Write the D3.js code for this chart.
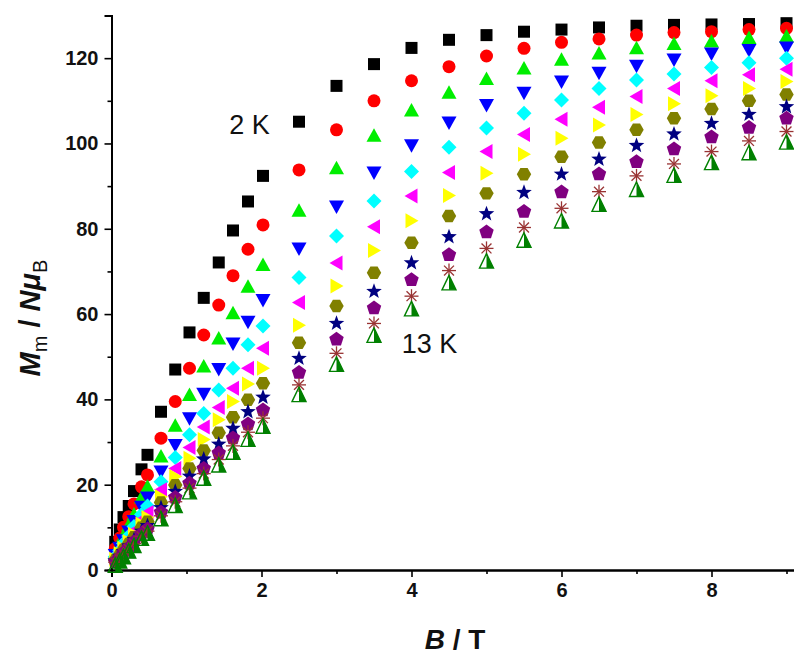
<!DOCTYPE html>
<html><head><meta charset="utf-8">
<script src="https://cdn.jsdelivr.net/npm/d3@7"></script>
<style>
html,body{margin:0;padding:0;background:#fff;}
svg{display:block;}
text{font-family:"Liberation Sans",Arial,sans-serif;}
</style></head>
<body>
<svg id="chart" width="794" height="662"></svg>
<script>
// Field values (T)
const fields = [0.05,0.11,0.16,0.23,0.30,0.40,0.48,0.66,0.85,1.04,1.23,1.43,1.62,1.82,2.02,2.5,3,3.5,4,4.5,5,5.5,6,6.5,7,7.5,8,8.5,9];
// Temperatures (K), one series each
const temps = [2,3,4,5,6,7,8,9,10,11,12,13];
const m2K  = [6.6,9.5,12.4,15.0,18.5,23.6,27.0,37.1,47.0,55.7,63.8,72.1,79.6,86.4,92.4,105.1,113.5,118.6,122.4,124.3,125.4,126.2,126.7,127.2,127.6,127.8,127.9,128.0,128.2];
const m3K  = [5.0,7.5,10.0,12.5,15.5,19.5,22.3,30.9,39.5,47.3,55.1,62.1,69.0,75.2,80.9,93.8,103.2,110.0,114.7,118.0,120.5,122.3,123.7,124.5,125.4,126.0,126.2,126.7,127.0];
const m4K  = [4.0,6.0,8.0,10.5,13.0,17.0,19.5,26.6,33.8,41.0,47.7,54.3,60.2,66.4,71.5,84.2,94.2,101.8,107.7,111.9,115.1,117.6,119.6,121.1,122.3,123.3,123.9,124.7,125.1];
const m5K  = [3.5,5.2,7.0,9.0,11.5,14.8,17.0,23.1,29.3,35.6,41.3,47.1,53.1,58.2,63.3,75.4,85.2,93.2,99.6,104.9,109.0,111.9,114.5,116.6,118.2,119.7,121.1,121.9,122.5];
const m6K  = [3.1,4.6,6.2,8.0,10.2,13.0,15.0,20.7,26.4,31.7,36.7,42.2,47.3,52.8,57.2,68.6,78.3,86.5,93.4,99.1,103.6,107.1,110.2,112.9,114.9,116.3,117.8,118.9,120.0];
const m7K  = [2.8,4.2,5.6,7.2,9.2,11.8,13.5,18.8,23.8,28.7,33.5,38.1,42.6,47.3,52.0,62.7,72.0,80.5,87.7,93.2,98.1,102.1,105.7,108.5,111.0,112.9,114.7,116.1,117.4];
const m8K  = [2.5,3.8,5.1,6.6,8.4,10.8,12.3,17.2,21.9,26.2,30.6,35.2,39.5,43.6,47.3,57.4,66.6,74.9,81.9,87.8,93.0,97.5,101.2,104.3,106.8,109.3,111.2,112.9,114.5];
const m9K  = [2.3,3.5,4.7,6.1,7.7,9.9,11.3,15.8,19.9,23.8,28.0,32.2,35.8,39.9,43.8,53.3,61.9,69.7,76.7,83.0,88.3,92.8,96.9,100.2,103.2,105.9,108.1,110.0,111.5];
const m10K = [2.1,3.2,4.3,5.6,7.1,9.1,10.4,14.6,18.4,22.0,26.0,29.5,33.2,37.1,40.5,49.6,57.8,65.3,72.0,78.1,83.5,88.5,92.8,96.3,99.5,102.2,104.7,106.8,108.6];
const m11K = [1.9,2.9,4.0,5.2,6.6,8.4,9.6,13.5,17.0,20.3,23.8,27.4,30.9,34.2,37.5,46.3,54.1,61.4,68.0,73.9,79.2,84.0,88.6,92.8,95.7,98.7,101.5,103.7,105.9];
const m12K = [1.8,2.7,3.8,4.9,6.2,7.9,9.1,12.7,16.0,19.2,22.6,25.9,29.1,32.3,35.6,43.4,50.8,57.8,64.2,70.2,75.4,80.3,84.8,88.7,92.4,95.2,98.1,100.6,102.8];
const m13K = [1.0,2.0,3.0,4.3,5.6,7.3,8.5,11.9,15.0,18.2,21.4,24.5,27.5,30.5,33.6,41.0,48.1,54.9,61.1,67.2,72.3,77.2,81.7,85.6,89.1,92.4,95.4,97.7,100.2];
const seriesValues = [m2K,m3K,m4K,m5K,m6K,m7K,m8K,m9K,m10K,m11K,m12K,m13K];
const xTicks = [0,2,4,6,8];
const yTicks = [0,20,40,60,80,100,120];
const annotations = [{text:"2 K", B:1.57, M:102.2}, {text:"13 K", B:3.87, M:50.8}];

const symbols = ["square","circle","up","down","diamond","left","right","hexagon","star","pentagon","asterisk","halftri"];
const colors = ["#000000","#ff0000","#00ee00","#0000ff","#00ffff","#ff00ff","#ffff00","#808000","#000080","#800080","#993333","#008000"];

const svg = d3.select("#chart");
const plotLeft = 111.5, plotBottom = 570, plotTop = 15.5;
const x = d3.scaleLinear().domain([0, 9.3]).range([plotLeft, plotLeft + 75*9.3]);
const y = d3.scaleLinear().domain([0, 130]).range([plotBottom, plotTop]);

// axes
const xAxis = d3.axisBottom(x).tickValues(xTicks).tickSize(7).tickPadding(6).tickFormat(d3.format("d"));
const xMinor = d3.axisBottom(x).tickValues(d3.range(1,10,2)).tickSize(4).tickFormat("");
const yAxis = d3.axisLeft(y).tickValues(yTicks).tickSize(7).tickPadding(6).tickFormat(d3.format("d"));
const yMinor = d3.axisLeft(y).tickValues(d3.range(10,131,20)).tickSize(4).tickFormat("");

function styleAxis(g){
  g.select(".domain").attr("stroke","#000").attr("stroke-width",2);
  g.selectAll(".tick line").attr("stroke","#000").attr("stroke-width",1.6);
  g.selectAll("text").attr("font-size",20).attr("font-weight","bold").attr("fill","#111")
   .attr("font-family","'Liberation Sans',Arial,sans-serif");
}
svg.append("g").attr("transform",`translate(0,${plotBottom})`).call(xMinor).call(styleAxis);
svg.append("g").attr("transform",`translate(0,${plotBottom})`).call(xAxis).call(styleAxis);
svg.append("g").attr("transform",`translate(${plotLeft},0)`).call(yMinor).call(styleAxis);
svg.append("g").attr("transform",`translate(${plotLeft},0)`).call(yAxis).call(styleAxis);

// axis titles
const xt = svg.append("text").attr("x",455).attr("y",649).attr("text-anchor","middle")
  .attr("font-size",28).attr("font-weight","bold").attr("fill","#111");
xt.append("tspan").attr("font-style","italic").text("B");
xt.append("tspan").text(" / T");

const yt = svg.append("text").attr("transform","translate(40,318) rotate(-90)").attr("text-anchor","middle")
  .attr("font-size",29).attr("font-weight","bold").attr("fill","#111");
yt.append("tspan").attr("font-style","italic").text("M");
yt.append("tspan").attr("font-size",20).attr("font-weight","normal").attr("dy",7).text("m");
yt.append("tspan").attr("dy",-7).text(" / ");
yt.append("tspan").attr("font-style","italic").text("N");
yt.append("tspan").attr("font-style","italic").text("\u03bc");
yt.append("tspan").attr("font-size",20).attr("font-weight","normal").attr("dy",7).text("B");

// symbol paths centered at 0,0
function poly(n, r, rot){
  const pts=[];
  for(let i=0;i<n;i++){const a=rot+i*2*Math.PI/n; pts.push([r*Math.cos(a), r*Math.sin(a)]);}
  return "M"+pts.map(p=>p.join(",")).join("L")+"Z";
}
function starPath(r1,r2){
  const pts=[];
  for(let i=0;i<10;i++){const a=-Math.PI/2+i*Math.PI/5; const r=i%2?r2:r1; pts.push([r*Math.cos(a),r*Math.sin(a)]);}
  return "M"+pts.map(p=>p.join(",")).join("L")+"Z";
}
const shapePaths = {
  square: "M-6,-6H6V6H-6Z",
  circle: "M-6.5,0A6.5,6.5 0 1,0 6.5,0A6.5,6.5 0 1,0 -6.5,0Z",
  up: "M0,-7.5L7.5,6L-7.5,6Z",
  down: "M0,7.5L7.5,-6L-7.5,-6Z",
  diamond: "M0,-7.5L7.5,0L0,7.5L-7.5,0Z",
  left: "M-7,0L6,-7.5L6,7.5Z",
  right: "M7,0L-6,-7.5L-6,7.5Z",
  hexagon: poly(6,7.2,0),
  star: starPath(8.2,3.4),
  pentagon: poly(5,7.6,-Math.PI/2)
};

const g = svg.append("g");
seriesValues.forEach((vals,i)=>{
  const sym = symbols[i], col = colors[i];
  const pts = fields.map((b,k)=>({b, m: vals[k]}));
  const sg = g.append("g");
  const nodes = sg.selectAll("g").data(pts).join("g")
    .attr("transform",d=>`translate(${x(d.b)},${y(d.m)})`);
  if(sym==="asterisk"){
    [0,45,90,135].forEach(a=>{
      nodes.append("line").attr("x1",-7).attr("x2",7).attr("y1",0).attr("y2",0)
        .attr("transform",`rotate(${a})`).attr("stroke",col).attr("stroke-width",1.3);
    });
  } else if(sym==="halftri"){
    nodes.append("path").attr("d","M0,-8L7,6.5L0,6.5Z").attr("fill",col);
    nodes.append("path").attr("d","M0,-8L7,6.5L-7,6.5Z").attr("fill","none").attr("stroke",col).attr("stroke-width",1.4);
  } else {
    nodes.append("path").attr("d",shapePaths[sym]).attr("fill",col);
  }
});

// annotations
svg.selectAll("text.ann").data(annotations).join("text").attr("class","ann")
  .attr("x",d=>x(d.B)).attr("y",d=>y(d.M)).attr("font-size",27).attr("fill","#111")
  .text(d=>d.text);
</script>
</body></html>
